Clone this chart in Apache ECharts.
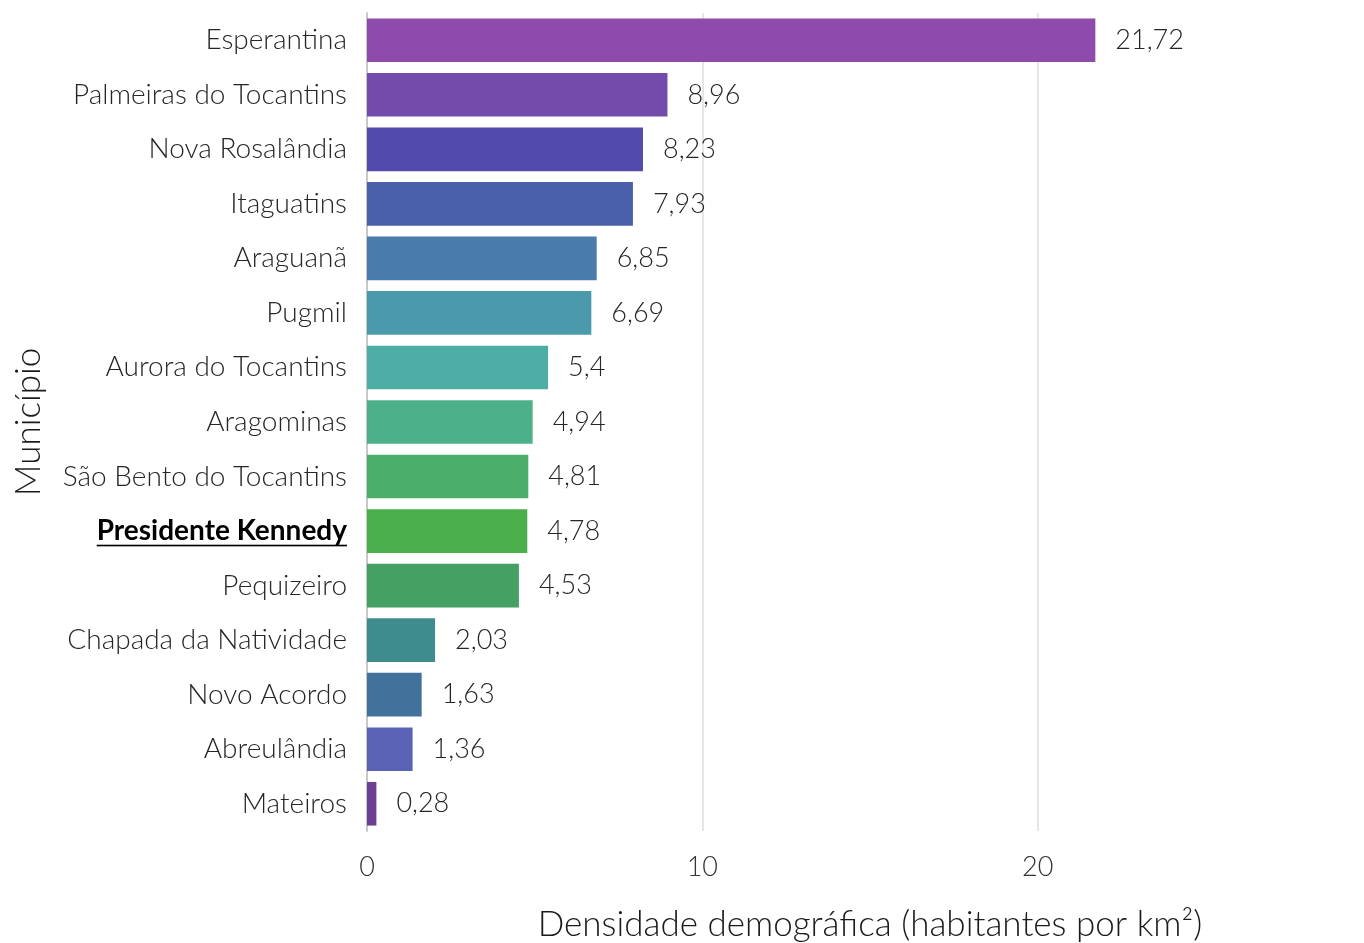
<!DOCTYPE html>
<html><head><meta charset="utf-8">
<script src="https://cdn.jsdelivr.net/npm/echarts@6/dist/echarts.min.js"></script>
<style>html,body{margin:0;padding:0;background:#fff}#c{width:1364px;height:943px}</style>
</head><body><div id="c"></div>
<script>
const categories = ["Esperantina","Palmeiras do Tocantins","Nova Rosalândia","Itaguatins","Araguanã","Pugmil","Aurora do Tocantins","Aragominas","São Bento do Tocantins","Presidente Kennedy","Pequizeiro","Chapada da Natividade","Novo Acordo","Abreulândia","Mateiros"];
const values = [21.72,8.96,8.23,7.93,6.85,6.69,5.4,4.94,4.81,4.78,4.53,2.03,1.63,1.36,0.28];
const colors = ["#8e4bab","#724bab","#534bab","#4a60ab","#4a7cab","#4a9aab","#4caea5","#4cb18a","#4baf6a","#4baf4b","#45a063","#3f8c8f","#42719b","#5a62b5","#6c3e94"];
const highlight = "Presidente Kennedy";
const xTicks = [0,10,20];

const FONT = "Lato";
const ul = document.createElement('canvas');
ul.width = 10; ul.height = 40;
(function(){const g=ul.getContext('2d');g.fillStyle='#000';g.fillRect(0,36,10,2);})();

const chart = echarts.init(document.getElementById('c'), null, {renderer:'canvas'});
chart.setOption({
  backgroundColor:'#fff',
  animation:false,
  grid:{left:367, right:-9, top:13, bottom:112, containLabel:false, outerBoundsMode:'none'},
  xAxis:{
    type:'value', min:0, max:30, interval:10,
    name:'Densidade demográfica (habitantes por km²)',
    nameLocation:'middle', nameGap:76,
    nameTextStyle:{fontFamily:FONT, fontWeight:300, fontSize:35, color:'#1a1a1a'},
    axisLine:{show:false}, axisTick:{show:false},
    axisLabel:{fontFamily:FONT, fontWeight:300, fontSize:27, color:'#333', margin:23,
      formatter:v=> xTicks.includes(v)? String(v):''},
    splitLine:{show:true, lineStyle:{color:'#dedede', width:1.5}}
  },
  yAxis:{
    type:'category', data:categories, inverse:true,
    name:'Município', nameLocation:'middle', nameGap:321,
    nameTextStyle:{fontFamily:FONT, fontWeight:300, fontSize:35, color:'#1a1a1a'},
    axisLine:{show:true, lineStyle:{color:'#c8c8c8', width:2}},
    axisTick:{show:false},
    axisLabel:{fontFamily:FONT, fontWeight:300, fontSize:28, color:'#262626', margin:20,
      formatter:v=> v===highlight? '{hl|'+v+'}' : v,
      rich:{hl:{fontFamily:FONT, fontWeight:'bold', fontSize:28, color:'#000',
        backgroundColor:{image:ul}, lineHeight:34, height:34, padding:[0,0,0,0]}}}
  },
  series:[{
    type:'bar', barCategoryGap:'20%',
    data: values.map((v,i)=>({value:v, itemStyle:{color:colors[i]}})),
    label:{show:true, position:'right', distance:20, fontFamily:FONT, fontWeight:300, fontSize:27, color:'#262626',
      formatter:p=> String(p.value).replace('.',',')}
  }]
});
</script></body></html>
